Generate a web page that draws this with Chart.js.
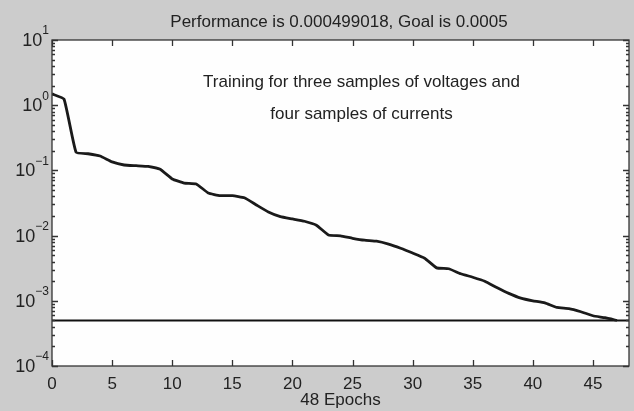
<!DOCTYPE html>
<html>
<head>
<meta charset="utf-8">
<script src="https://cdn.jsdelivr.net/npm/chart.js@4/dist/chart.umd.min.js"></script>
<style>
  html, body { margin: 0; padding: 0; background: #cccccc; }
  #wrap { width: 634px; height: 411px; }
</style>
</head>
<body>
<div id="wrap"><canvas id="perfChart" width="634" height="411"></canvas></div>
<script>
// training performance per epoch
const epochs = [0, 1, 2, 3, 4, 5, 6, 7, 8, 9, 10, 11, 12, 13, 14, 15, 16, 17, 18, 19, 20, 21, 22, 23,
                24, 25, 26, 27, 28, 29, 30, 31, 32, 33, 34, 35, 36, 37, 38, 39, 40, 41, 42, 43, 44, 45, 46, 47];
const performance = [1.49, 1.24, 0.19, 0.18, 0.166, 0.135, 0.121, 0.118, 0.115, 0.104, 0.074, 0.064,
                     0.062, 0.045, 0.041, 0.041, 0.038, 0.0295, 0.023, 0.0195, 0.018, 0.0166, 0.0144, 0.0102,
                     0.0099, 0.0091, 0.0085, 0.0082, 0.0074, 0.0064, 0.0054, 0.0045, 0.0032, 0.0031, 0.0026, 0.0023,
                     0.0020, 0.0016, 0.0013, 0.0011, 0.00100, 0.00093, 0.00079, 0.00076, 0.00068, 0.00059, 0.00055, 0.000499];
const goalX = [0, 48];
const goalY = [0.0005, 0.0005];

const xTickValues = [0, 5, 10, 15, 20, 25, 30, 35, 40, 45];
const yTickValues = [1e-4, 1e-3, 1e-2, 1e-1, 1, 10];
const yTickExps = ['\u22124', '\u22123', '\u22122', '\u22121', '0', '1'];

const titleText = 'Performance is 0.000499018, Goal is 0.0005';
const noteLines = ['Training for three samples of voltages and', 'four samples of currents'];

const FONT = '"Liberation Sans", Arial, sans-serif';

const frame = {
    id: 'frame',
    beforeDraw(chart) {
        const ctx = chart.ctx;
        const a = chart.chartArea;
        ctx.save();
        ctx.fillStyle = '#cccccc';
        ctx.fillRect(0, 0, chart.width, chart.height);
        ctx.fillStyle = '#fefefe';
        ctx.fillRect(a.left, a.top, a.right - a.left, a.bottom - a.top);
        ctx.restore();
    },
    afterDraw(chart) {
        const ctx = chart.ctx;
        const a = chart.chartArea;
        const xs = chart.scales.x;
        const ys = chart.scales.y;
        ctx.save();
        ctx.strokeStyle = '#333';
        ctx.lineWidth = 1.3;
        ctx.strokeRect(a.left, a.top, a.right - a.left, a.bottom - a.top);

        // x ticks, inward on top and bottom
        ctx.beginPath();
        xTickValues.forEach(v => {
            const px = Math.round(xs.getPixelForValue(v)) + 0.5;
            ctx.moveTo(px, a.bottom); ctx.lineTo(px, a.bottom - 6);
            ctx.moveTo(px, a.top); ctx.lineTo(px, a.top + 6);
        });
        // y ticks, major and minor, inward on left and right
        for (let d = -4; d < 1; d++) {
            for (let m = 1; m <= 10; m++) {
                const v = m * Math.pow(10, d);
                const py = Math.round(ys.getPixelForValue(v)) + 0.5;
                const len = (m === 1 || m === 10) ? 6 : 3;
                ctx.moveTo(a.left, py); ctx.lineTo(a.left + len, py);
                ctx.moveTo(a.right, py); ctx.lineTo(a.right - len, py);
            }
        }
        ctx.stroke();

        // y tick labels: 10 with a raised exponent
        ctx.fillStyle = '#222';
        ctx.textBaseline = 'middle';
        yTickValues.forEach((v, i) => {
            const py = ys.getPixelForValue(v);
            ctx.font = '12px ' + FONT;
            const ew = ctx.measureText(yTickExps[i]).width;
            const right = a.left - 3;
            ctx.textAlign = 'right';
            ctx.fillText(yTickExps[i], right, py - 9);
            ctx.font = '18px ' + FONT;
            ctx.fillText('10', right - ew, py + 1);
        });

        // title
        ctx.textAlign = 'center';
        ctx.font = '17px ' + FONT;
        ctx.fillText(titleText, 339, 22);

        // note inside the plot
        const cx = xs.getPixelForValue(25.75);
        ctx.fillText(noteLines[0], cx, a.top + 42);
        ctx.fillText(noteLines[1], cx, a.top + 74);
        ctx.restore();
    }
};

new Chart(document.getElementById('perfChart').getContext('2d'), {
    type: 'line',
    data: {
        datasets: [{
            label: 'Performance',
            data: epochs.map((e, i) => ({ x: e, y: performance[i] })),
            borderColor: '#1a1a1a',
            borderWidth: 2.8,
            pointRadius: 0,
            tension: 0.12,
            fill: false
        }, {
            label: 'Goal',
            data: goalX.map((x, i) => ({ x: x, y: goalY[i] })),
            borderColor: '#111',
            borderWidth: 2,
            pointRadius: 0,
            fill: false
        }]
    },
    options: {
        responsive: false,
        animation: false,
        layout: { padding: { top: 40, right: 5, left: 0, bottom: 0 } },
        plugins: {
            legend: { display: false },
            tooltip: { enabled: false }
        },
        scales: {
            x: {
                type: 'linear',
                min: 0,
                max: 48,
                afterBuildTicks: function(scale) {
                    scale.ticks = xTickValues.map(v => ({ value: v }));
                },
                afterFit: function(scale) { scale.height = 45; },
                grid: { display: false, drawTicks: false },
                border: { display: false },
                ticks: {
                    padding: 8,
                    color: '#222',
                    font: { family: FONT, size: 17 }
                },
                title: {
                    display: true,
                    text: '48 Epochs',
                    color: '#222',
                    padding: { top: 0, bottom: 0 },
                    font: { family: FONT, size: 17 }
                }
            },
            y: {
                type: 'logarithmic',
                min: 1e-4,
                max: 10,
                afterFit: function(scale) { scale.width = 52; },
                grid: { display: false, drawTicks: false },
                border: { display: false },
                ticks: { display: false }
            }
        }
    },
    plugins: [frame]
});
</script>
</body>
</html>
